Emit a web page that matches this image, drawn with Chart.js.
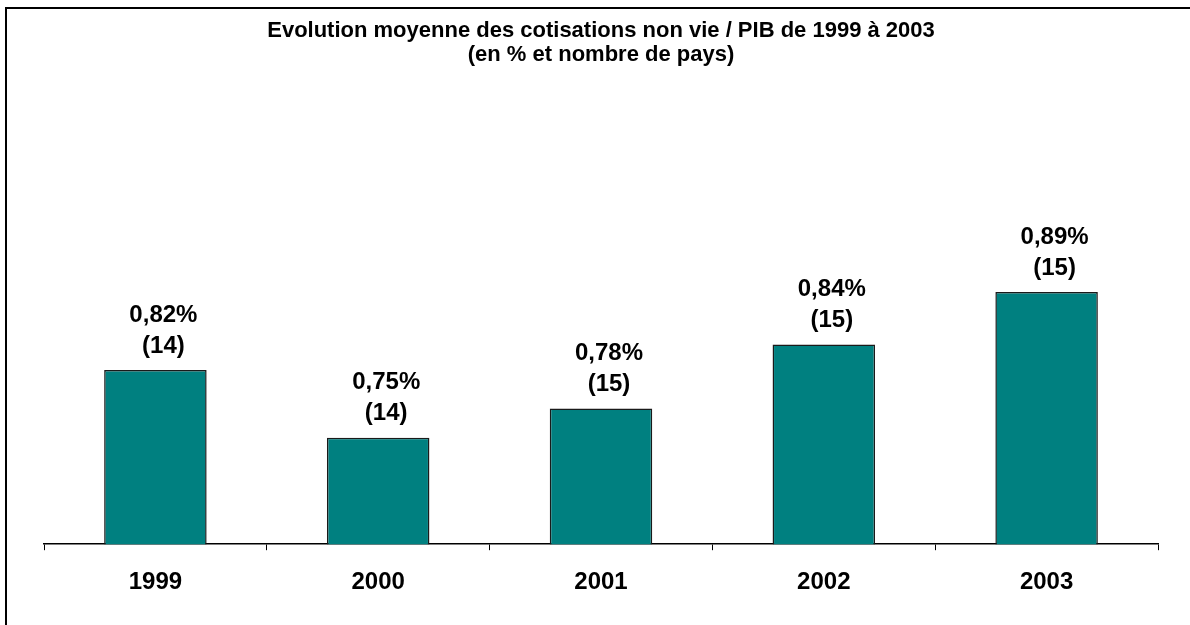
<!DOCTYPE html>
<html>
<head>
<meta charset="utf-8">
<script src="https://cdn.jsdelivr.net/npm/chart.js@4"></script>
<style>
    html, body { margin: 0; padding: 0; background: #ffffff; }
    #graficaCotisations { display: block; }
</style>
</head>
<body>
<canvas id="graficaCotisations" width="1190" height="625"></canvas>
<script>
const annees = ["1999", "2000", "2001", "2002", "2003"];
const cotisations = [0.817, 0.75, 0.779, 0.842, 0.894];
const etiquettesPct = ["0,82%", "0,75%", "0,78%", "0,84%", "0,89%"];
const nombrePays = ["(14)", "(14)", "(15)", "(15)", "(15)"];
const titreLignes = [
    "Evolution moyenne des cotisations non vie / PIB de 1999 à 2003",
    "(en % et nombre de pays)"
];

const police = "'Liberation Sans', Arial, sans-serif";

// cadre du graphique (gauche + haut)
const cadre = {
    id: "cadre",
    beforeDraw(chart) {
        const ctx = chart.ctx;
        ctx.save();
        ctx.strokeStyle = "#000000";
        ctx.lineWidth = 2;
        ctx.strokeRect(6, 8, 1400, 800);
        ctx.restore();
    }
};

// etiquettes au-dessus des barres
const etiquettes = {
    id: "etiquettes",
    afterDatasetsDraw(chart) {
        const ctx = chart.ctx;
        const meta = chart.getDatasetMeta(0);
        ctx.save();
        ctx.fillStyle = "#000000";
        ctx.font = "bold 24px " + police;
        ctx.textAlign = "center";
        ctx.textBaseline = "middle";
        meta.data.forEach((barre, i) => {
            const x = barre.x + 8;
            ctx.fillText(etiquettesPct[i], x, barre.y - 55);
            ctx.fillText(nombrePays[i], x, barre.y - 24);
        });
        ctx.restore();
    }
};

new Chart(document.getElementById("graficaCotisations"), {
    type: "bar",
    data: {
        labels: annees,
        datasets: [{
            data: cotisations,
            backgroundColor: "#008080",
            borderColor: "#1a1a1a",
            borderWidth: 1.5,
            borderSkipped: false,
            barPercentage: 0.92,
            categoryPercentage: 0.5
        }]
    },
    options: {
        responsive: false,
        animation: false,
        devicePixelRatio: 1,
        layout: {
            padding: { left: 44, right: 32, top: 0, bottom: 10 }
        },
        plugins: {
            legend: { display: false },
            tooltip: { enabled: false },
            title: {
                display: true,
                text: titreLignes,
                color: "#000000",
                font: { family: police, size: 22, weight: "bold", lineHeight: 1.1 },
                padding: { top: 19, bottom: 35 }
            }
        },
        scales: {
            x: {
                grid: {
                    offset: true,
                    drawOnChartArea: false,
                    drawTicks: true,
                    tickLength: 6,
                    color: "#000000"
                },
                border: { display: true, color: "#000000", width: 1.5 },
                ticks: {
                    color: "#000000",
                    padding: 18,
                    font: { family: police, size: 24, weight: "bold" }
                }
            },
            y: {
                display: false,
                min: 0.645,
                max: 1.081
            }
        }
    },
    plugins: [cadre, etiquettes]
});
</script>
</body>
</html>
